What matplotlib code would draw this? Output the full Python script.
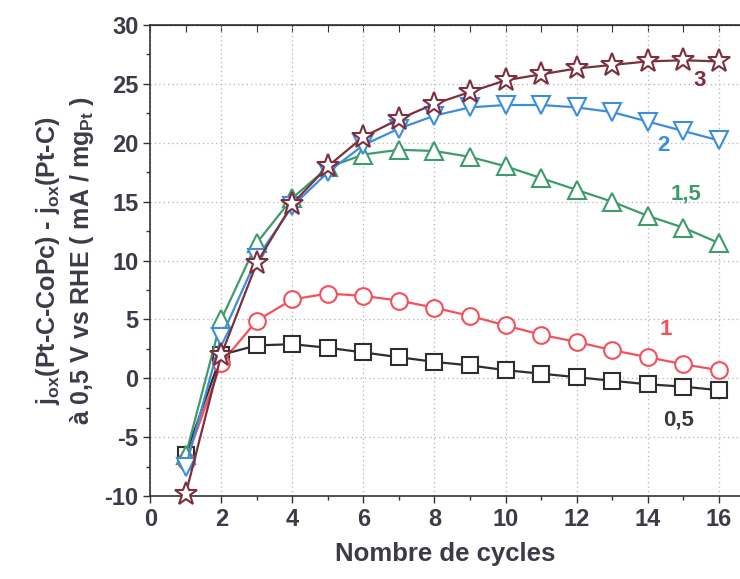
import matplotlib
matplotlib.use("Agg")
import matplotlib.pyplot as plt

plt.rcParams['font.family'] = ['Liberation Sans', 'DejaVu Sans']
plt.rcParams['font.weight'] = 'bold'
plt.rcParams['axes.unicode_minus'] = False
plt.rcParams['mathtext.fontset'] = 'custom'
plt.rcParams['mathtext.rm'] = 'Liberation Sans:bold'
plt.rcParams['mathtext.bf'] = 'Liberation Sans:bold'
plt.rcParams['mathtext.it'] = 'Liberation Sans:bold'

cycles = list(range(1, 17))
s05 = [-6.5, 2.0, 2.8, 2.9, 2.6, 2.2, 1.8, 1.4, 1.1, 0.7, 0.4, 0.1, -0.2, -0.5, -0.7, -1.0]
s1 = [-7.0, 1.3, 4.9, 6.7, 7.2, 7.0, 6.6, 6.0, 5.3, 4.5, 3.7, 3.1, 2.4, 1.8, 1.2, 0.7]
s15 = [-6.5, 5.0, 11.5, 15.3, 17.9, 19.0, 19.4, 19.3, 18.8, 18.0, 17.0, 16.0, 15.0, 13.8, 12.8, 11.5]
s2 = [-7.5, 3.5, 10.2, 14.6, 17.5, 19.8, 21.2, 22.3, 23.0, 23.2, 23.2, 23.0, 22.6, 21.8, 21.0, 20.2]
s3 = [-9.8, 2.0, 9.8, 14.8, 18.0, 20.5, 22.0, 23.3, 24.3, 25.3, 25.8, 26.3, 26.6, 26.9, 27.0, 26.9]
series_labels = ['0,5', '1', '1,5', '2', '3']
xticks = [0, 2, 4, 6, 8, 10, 12, 14, 16]
yticks = [-10, -5, 0, 5, 10, 15, 20, 25, 30]

txt = '#3c3c48'
fig = plt.figure(figsize=(7.4, 5.79), dpi=100)
ax = fig.add_axes([0.203, 0.143, 0.797, 0.814])

styles = [
    (s05, 's', '#2e2e2e', 11),
    (s1, 'o', '#f2505c', 12),
    (s15, '^', '#3f9a6c', 13),
    (s2, 'v', '#3c8edc', 13),
    (s3, '*', '#7c2f3e', 17),
]
for vals, m, c, ms in styles:
    ax.plot(cycles, vals, color=c, lw=1.6, marker=m, ms=ms, mfc='white',
            mec=c, mew=1.5, clip_on=False, zorder=3)

lab_pos = [(14.87, -3.5), (14.52, 4.15), (15.09, 15.66), (14.44, 19.8), (15.46, 25.3)]
lab_cols = ['#3a3a3a', '#f2505c', '#3f9a6c', '#3c8edc', '#7c2f3e']
for (lx, ly), lab, c in zip(lab_pos, series_labels, lab_cols):
    ax.text(lx, ly, lab, color=c, fontsize=16, fontweight='bold', ha='center', va='center')

ax.set_xlim(0, 16.6)
ax.set_ylim(-10, 30)
ax.set_xticks(xticks)
ax.set_yticks(yticks)
ax.set_xticks(range(0, 17), minor=True)
ax.set_yticks([v + 2.5 for v in yticks[:-1]], minor=True)
ax.tick_params(axis='both', which='major', labelsize=17, colors='#333333', labelcolor=txt,
               direction='out', length=5, width=1)
ax.tick_params(axis='both', which='minor', direction='out', length=3, width=1, colors='#333333')
for lab in ax.get_xticklabels() + ax.get_yticklabels():
    lab.set_fontweight('bold')
ax.grid(True, which='major', linestyle=(0, (1, 2.5)), color='#b0b0b0', lw=0.9)
for s in ax.spines.values():
    s.set_color('#333333')
    s.set_linewidth(1.2)
ax.spines['right'].set_visible(False)

top = ax.secondary_xaxis('top')
top.set_xticks(range(0, 17))
top.tick_params(direction='in', length=5, labeltop=False, colors='#333333')
top.set_xticklabels([])

ax.set_xlabel('Nombre de cycles', fontsize=18.5, fontweight='bold', color=txt, labelpad=8)
ax.set_ylabel('j$_{ox}$(Pt-C-CoPc) - j$_{ox}$(Pt-C)\nà 0,5 V vs RHE ( mA / mg$_{Pt}$ )',
              fontsize=18, fontweight='bold', color=txt, labelpad=6, linespacing=1.3)

fig.savefig('out.png', dpi=100)
